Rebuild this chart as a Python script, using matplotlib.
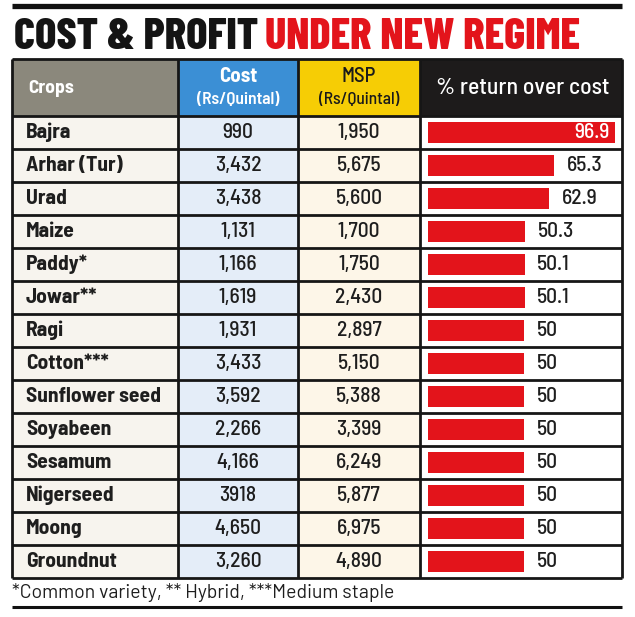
import matplotlib
matplotlib.use('Agg')
import matplotlib.pyplot as plt

crops = ['Bajra', 'Arhar (Tur)', 'Urad', 'Maize', 'Paddy*', 'Jowar**', 'Ragi',
         'Cotton***', 'Sunflower seed', 'Soyabeen', 'Sesamum', 'Nigerseed',
         'Moong', 'Groundnut']
cost = ['990', '3,432', '3,438', '1,131', '1,166', '1,619', '1,931',
        '3,433', '3,592', '2,266', '4,166', '3918', '4,650', '3,260']
msp = ['1,950', '5,675', '5,600', '1,700', '1,750', '2,430', '2,897',
       '5,150', '5,388', '3,399', '6,249', '5,877', '6,975', '4,890']
returns = [96.9, 65.3, 62.9, 50.3, 50.1, 50.1, 50, 50, 50, 50, 50, 50, 50, 50]
return_labels = ['96.9', '65.3', '62.9', '50.3', '50.1', '50.1', '50', '50',
                 '50', '50', '50', '50', '50', '50']

COND = ['Barlow Condensed', 'Liberation Sans Narrow', 'DejaVu Sans']
SEMI = ['Barlow Semi Condensed', 'Liberation Sans Narrow', 'DejaVu Sans']
WIDE = ['Barlow', 'Liberation Sans', 'DejaVu Sans']
RED = '#e3141b'
INK = '#1e1e1e'
W, H = 635, 617

fig = plt.figure(figsize=(W / 100, H / 100), dpi=100)
ax = fig.add_axes([0, 0, 1, 1])
ax.set_xlim(0, W)
ax.set_ylim(H, 0)
ax.axis('off')

# layout (pixels)
cols = [12, 178, 298, 420, 622]
head_top, body_top, row_h = 59, 116, 33
n = len(crops)
body_bot = body_top + row_h * n

# rules and title
ax.hlines(6, 12, 622, color='#111111', lw=3.8)
ax.hlines(607, 12, 622, color='#111111', lw=2.2)
t1 = ax.text(14, 49, 'COST & PROFIT ', family=COND, weight=800, fontsize=32,
             color='#141414', va='baseline', ha='left')
fig.canvas.draw()
bb = t1.get_window_extent()
x2 = ax.transData.inverted().transform((bb.x1, bb.y0))[0]
ax.text(x2 - 2, 49, 'UNDER NEW REGIME', family=COND, weight=800, fontsize=32,
        color=RED, va='baseline', ha='left')

# header and body backgrounds
head_colors = ['#8b887c', '#3b8fd5', '#f6cd05', '#1d1b1b']
body_colors = ['#f7f4ee', '#e4edf8', '#fdf6e8', '#ffffff']
for i in range(4):
    ax.add_patch(plt.Rectangle((cols[i], head_top), cols[i + 1] - cols[i],
                               body_top - head_top, color=head_colors[i], lw=0))
    ax.add_patch(plt.Rectangle((cols[i], body_top), cols[i + 1] - cols[i],
                               body_bot - body_top, color=body_colors[i], lw=0))

hy = (head_top + body_top) / 2
ax.text(28, hy + 1, 'Crops', family=SEMI, weight=700, fontsize=14,
        color='white', va='center')
ax.text(238, 76, 'Cost', family=SEMI, weight=700, fontsize=15,
        color='white', va='center', ha='center')
ax.text(238, 100, '(Rs/Quintal)', family=SEMI, weight=600, fontsize=12.5,
        color='white', va='center', ha='center')
ax.text(359, 76, 'MSP', family=SEMI, weight=500, fontsize=15,
        color='#1a1a1a', va='center', ha='center')
ax.text(359, 100, '(Rs/Quintal)', family=SEMI, weight=500, fontsize=12.5,
        color='#1a1a1a', va='center', ha='center')
ax.text(523, hy, '% return over cost', family=SEMI, weight=500, fontsize=17,
        color='white', va='center', ha='center')

# body text
for i in range(n):
    yc = body_top + row_h * (i + 0.5)
    ax.text(26, yc, crops[i], family=SEMI, weight=700, fontsize=15.5,
            color=INK, va='center', ha='left')
    ax.text(238, yc, cost[i], family=SEMI, weight=500, fontsize=15.5,
            color=INK, va='center', ha='center')
    ax.text(359, yc, msp[i], family=SEMI, weight=500, fontsize=15.5,
            color=INK, va='center', ha='center')

# grid lines
ys = [head_top] + [body_top + row_h * k for k in range(n + 1)]
ax.hlines(ys, cols[0], cols[-1], color='#161616', lw=2.0)
ax.vlines(cols, head_top, body_bot, color='#161616', lw=2.0)

# bars in the last column
bx = fig.add_axes([cols[3] / W, (H - body_bot) / H,
                   (cols[4] - cols[3]) / W, (body_bot - body_top) / H])
bx.set_xlim(-4.1, 100.5)
bx.set_ylim(n - 0.5, -0.5)
bx.axis('off')
bx.barh(range(n), returns, height=0.65, color=RED)
for i, v in enumerate(returns):
    if v > 90:
        bx.text(v - 2.5, i, return_labels[i], family=SEMI, weight=500,
                fontsize=15.5, color='white', va='center', ha='right')
    else:
        bx.text(v + 6.5, i, return_labels[i], family=SEMI, weight=500,
                fontsize=15.5, color=INK, va='center', ha='left')

ax.text(12, 592, '*Common variety, ** Hybrid, ***Medium staple', family=WIDE,
        fontsize=14, color=INK, va='center', ha='left')

fig.savefig('out.png', dpi=100)
